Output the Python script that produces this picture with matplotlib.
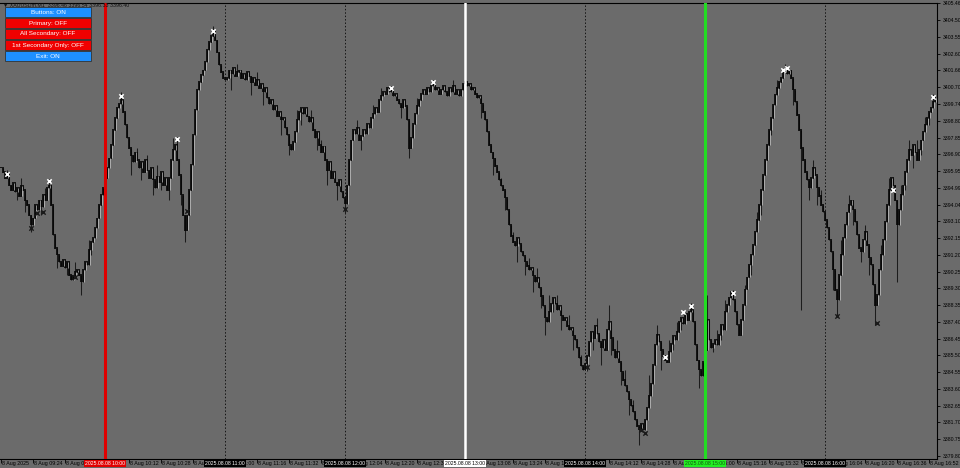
import numpy as np
import matplotlib.pyplot as plt
from matplotlib.patches import Rectangle
from matplotlib.transforms import blended_transform_factory

plt.rcParams['font.family'] = ['Liberation Sans', 'DejaVu Sans']

# XAUUSD M1, closes from 08 Aug 2025 09:08 (one value per minute)
close = [
    3396.13, 3395.90, 3395.56, 3395.79, 3395.16, 3394.88, 3395.28, 3394.77, 3395.00, 3394.54,
    3395.11, 3394.88, 3394.31, 3394.03, 3393.46, 3392.90, 3393.29, 3394.03, 3393.75, 3394.31,
    3393.92, 3394.60, 3394.31, 3395.00, 3395.16, 3394.03, 3392.33, 3391.59, 3391.20, 3390.80,
    3390.57, 3390.91, 3390.46, 3390.80, 3390.06, 3389.78, 3390.01, 3390.23, 3390.35, 3390.06,
    3389.67, 3390.35, 3390.80, 3390.63, 3391.48, 3391.93, 3392.16, 3392.73, 3393.29, 3394.03,
    3394.60, 3395.00, 3395.56,
    3396.13, 3396.69, 3397.43, 3398.28, 3398.96, 3399.53, 3399.76, 3399.98, 3399.30, 3398.57,
    3397.83, 3397.26, 3396.86, 3396.47, 3397.03, 3396.58, 3396.13, 3396.47, 3395.90, 3396.58,
    3396.01, 3395.56, 3396.13, 3395.45, 3395.00, 3395.67, 3395.33, 3395.90, 3395.16, 3395.56,
    3394.88, 3395.56, 3396.58, 3397.15, 3397.43, 3396.58, 3395.73, 3394.60, 3393.46, 3392.61,
    3393.46, 3394.88, 3396.30, 3398.00, 3399.42, 3400.55, 3401.00, 3401.40, 3401.68, 3402.14,
    3402.82, 3403.27, 3403.61, 3403.84, 3403.38, 3402.70, 3401.97, 3401.57, 3401.23, 3401.12,
    3401.23, 3401.68, 3401.46, 3401.80, 3401.34, 3401.57, 3401.68, 3401.23, 3401.46, 3401.12,
    3401.57, 3401.34, 3401.00, 3401.23, 3400.83, 3401.12, 3400.66, 3400.89, 3400.44, 3400.66,
    3400.10, 3399.76, 3399.98, 3399.42, 3399.64, 3399.07, 3399.30, 3398.85, 3398.96, 3398.40,
    3398.00, 3397.43, 3397.15, 3397.60, 3398.17, 3398.85, 3399.30, 3399.53, 3399.19, 3399.53,
    3399.07, 3398.74, 3398.96, 3398.28, 3397.83, 3398.17, 3397.43, 3397.03, 3397.37, 3396.58,
    3396.01, 3396.47, 3395.56, 3395.90, 3395.33, 3395.11, 3395.45, 3394.77, 3394.43, 3394.09,
    3395.16, 3396.58, 3397.71, 3398.28, 3398.06, 3398.40, 3397.71, 3397.94, 3398.28, 3398.06,
    3398.62, 3398.40, 3398.96, 3399.19, 3399.53, 3399.30, 3399.98, 3400.21, 3400.44, 3400.32,
    3400.66, 3400.44, 3400.55, 3400.21, 3400.32, 3399.98, 3399.76, 3399.53, 3399.98, 3399.64,
    3398.85, 3397.26, 3397.83, 3398.62, 3399.19, 3399.64, 3399.98, 3400.32, 3400.55, 3400.32,
    3400.66, 3400.44, 3400.78, 3400.89, 3400.55, 3400.66, 3400.32, 3400.55, 3400.78, 3400.44,
    3400.21, 3400.66, 3400.44, 3400.78, 3400.32, 3400.55, 3400.21, 3400.55, 3400.89, 3401.00,
    3400.78, 3400.89, 3400.55, 3400.66, 3400.32, 3400.10, 3400.21, 3399.76, 3399.30, 3398.85,
    3398.17, 3397.43, 3397.03, 3396.69, 3396.24, 3395.90, 3395.45, 3395.11, 3394.88, 3394.43,
    3393.75, 3392.90, 3392.27, 3391.93, 3391.71, 3392.16, 3391.82, 3391.37, 3391.14, 3390.80,
    3390.57, 3390.35, 3390.46, 3390.01, 3389.67, 3389.89, 3389.33, 3388.87, 3388.31, 3387.63,
    3387.40, 3387.97, 3388.42, 3388.76, 3388.42, 3388.08, 3388.31, 3387.74, 3387.51, 3387.63,
    3387.17, 3386.95, 3387.06, 3386.61, 3386.38, 3385.93, 3385.36, 3384.91, 3384.68, 3385.02,
    3385.47, 3386.27, 3386.83, 3386.49, 3387.17, 3386.72, 3386.27, 3385.93, 3386.38, 3385.81,
    3386.95, 3387.40, 3386.49, 3385.81, 3385.36, 3385.70, 3385.13, 3384.57, 3384.11, 3383.77,
    3383.43, 3382.98, 3382.64, 3382.30, 3381.85, 3381.50, 3381.28, 3381.62, 3381.28, 3381.85,
    3382.53, 3383.21, 3383.89, 3384.96, 3386.10, 3386.66, 3386.27, 3385.81, 3385.47, 3385.24,
    3385.13, 3385.70, 3386.15, 3386.61, 3386.38, 3386.83, 3387.40, 3387.63, 3387.29, 3387.85,
    3387.51, 3387.97, 3388.08, 3387.40, 3386.10, 3385.24, 3384.68, 3384.34, 3385.13, 3385.81,
    3387.51, 3386.38, 3385.93, 3386.15, 3386.38, 3386.10, 3386.66, 3387.23, 3386.95, 3387.97,
    3388.36, 3388.76, 3389.10, 3388.65, 3387.97, 3387.23, 3386.66, 3387.51, 3388.36, 3389.24,
    3389.92, 3390.63, 3391.20, 3391.76, 3392.50, 3393.18, 3394.03, 3394.88, 3395.73, 3396.58,
    3397.43, 3398.28, 3398.96, 3399.70, 3400.27, 3400.66, 3401.00, 3401.23, 3401.57, 3401.68,
    3401.46, 3401.68, 3401.23, 3400.55, 3399.87, 3399.13, 3398.28, 3397.26, 3396.58, 3395.90,
    3395.45, 3395.00, 3395.56, 3396.13, 3395.73, 3395.00, 3394.54, 3394.03, 3393.64, 3393.18,
    3392.73, 3392.05, 3391.37, 3390.35, 3389.21, 3388.65, 3390.06, 3391.20, 3392.16, 3392.90,
    3393.63, 3394.03, 3394.31, 3393.75, 3393.07, 3392.33, 3391.59, 3391.37, 3392.05, 3392.50,
    3391.76, 3391.03, 3390.63, 3389.50, 3388.36, 3388.93, 3390.35, 3391.20, 3392.05, 3393.07,
    3394.03, 3394.88, 3395.56, 3395.16, 3394.31, 3392.90, 3393.75, 3394.60, 3395.16, 3395.90,
    3396.58, 3397.15, 3396.86, 3397.43, 3397.03, 3396.58, 3397.15, 3397.71, 3398.17, 3398.57,
    3398.96, 3399.30, 3399.53, 3399.87, 3400.10,
]

# shadows that stick out of the bodies (bar index -> price)
wick_low = {
    8: 3394.31, 12: 3393.63, 15: 3392.50, 20: 3393.46, 28: 3390.46, 33: 3390.06, 40: 3388.93,
    45: 3391.20, 65: 3395.73, 70: 3395.45, 76: 3394.60, 80: 3394.88, 84: 3394.31, 90: 3394.03,
    92: 3391.93, 115: 3400.55, 125: 3400.27, 131: 3399.70, 140: 3398.00, 144: 3396.86,
    150: 3398.57, 158: 3397.15, 163: 3395.16, 168: 3394.31, 172: 3393.60, 180: 3397.15,
    200: 3398.96, 204: 3396.69, 240: 3398.96, 246: 3395.73, 252: 3393.75, 258: 3390.80,
    262: 3390.06, 266: 3389.10, 270: 3388.19, 272: 3386.66, 276: 3387.97, 280: 3386.95,
    286: 3385.81, 293: 3384.60, 296: 3385.81, 300: 3384.96, 305: 3385.53, 310: 3383.83,
    314: 3382.13, 319: 3380.43, 326: 3384.40, 330: 3384.68, 336: 3385.81, 340: 3386.95,
    349: 3383.63, 356: 3385.70, 360: 3386.38, 370: 3386.66, 375: 3390.06, 380: 3393.46,
    385: 3398.00, 396: 3399.70, 400: 3388.08, 404: 3394.31, 408: 3394.03, 416: 3389.21,
    418: 3387.74, 426: 3392.90, 430: 3390.80, 434: 3390.06, 437: 3387.23, 442: 3392.33,
    448: 3389.67, 452: 3394.88, 456: 3396.13, 460: 3396.86, 464: 3398.57,
}
wick_high = {
    3: 3396.00, 10: 3395.56, 22: 3395.00, 24: 3395.50, 37: 3390.80, 44: 3392.05, 60: 3400.44,
    68: 3397.26, 73: 3396.86, 78: 3396.30, 86: 3397.83, 88: 3397.90, 106: 3404.18,
    118: 3402.02, 128: 3401.57, 136: 3399.98, 148: 3399.42, 155: 3399.42, 160: 3397.71,
    178: 3398.85, 186: 3399.70, 190: 3400.66, 195: 3400.80, 208: 3400.10, 216: 3401.10,
    226: 3401.12, 244: 3397.83, 250: 3395.56, 256: 3392.50, 264: 3391.03, 268: 3390.46,
    274: 3388.93, 278: 3388.93, 284: 3387.80, 290: 3385.53, 298: 3387.63, 304: 3388.36,
    308: 3386.38, 312: 3384.68, 316: 3382.98, 324: 3384.40, 328: 3387.23, 334: 3386.38,
    338: 3387.40, 345: 3388.45, 353: 3388.93, 358: 3386.95, 362: 3388.65, 366: 3389.20,
    372: 3389.50, 378: 3393.63, 388: 3401.12, 392: 3402.02, 398: 3399.53, 402: 3396.58,
    406: 3396.58, 410: 3394.88, 420: 3392.05, 424: 3394.60, 428: 3393.07, 432: 3392.90,
    440: 3391.76, 444: 3395.56, 446: 3395.10, 450: 3395.16, 454: 3397.71, 458: 3397.71,
    462: 3399.02, 466: 3400.32,
}

# fractal marks
up_mark_bar = [3, 24, 60, 88, 106, 195, 216, 332, 341, 345, 366, 391, 393, 446, 466]
up_mark_price = [3395.79, 3395.38, 3400.21, 3397.77, 3403.89, 3400.66, 3401.00, 3385.41,
                 3387.97, 3388.31, 3389.04, 3401.68, 3401.80, 3394.88, 3400.15]
dn_mark_bar = [15, 18, 21, 37, 93, 172, 293, 320, 322, 418, 438]
dn_mark_price = [3392.73, 3393.58, 3393.63, 3389.95, 3393.69, 3393.80, 3384.85, 3381.28,
                 3381.11, 3387.74, 3387.34]

price_ticks = [3405.46, 3404.50, 3403.55, 3402.60, 3401.66, 3400.70, 3399.74, 3398.80,
               3397.85, 3396.90, 3395.95, 3394.99, 3394.04, 3393.10, 3392.15, 3391.20,
               3390.25, 3389.30, 3388.35, 3387.40, 3386.45, 3385.50, 3384.55, 3383.60,
               3382.65, 3381.70, 3380.75, 3379.80]

time_tick_bars = list(range(0, 466, 16))
time_tick_labels = ['8 Aug 2025', '8 Aug 09:24', '8 Aug 09:40', '8 Aug 09:56', '8 Aug 10:12',
                    '8 Aug 10:28', '8 Aug 10:44', '8 Aug 11:00', '8 Aug 11:16', '8 Aug 11:32',
                    '8 Aug 11:48', '8 Aug 12:04', '8 Aug 12:20', '8 Aug 12:36', '8 Aug 12:52',
                    '8 Aug 13:08', '8 Aug 13:24', '8 Aug 13:40', '8 Aug 13:56', '8 Aug 14:12',
                    '8 Aug 14:28', '8 Aug 14:44', '8 Aug 15:00', '8 Aug 15:16', '8 Aug 15:32',
                    '8 Aug 15:48', '8 Aug 16:04', '8 Aug 16:20', '8 Aug 16:36', '8 Aug 16:52']

hour_bars = [52, 112, 172, 232, 292, 352, 412]
hour_labels = ['2025.08.08 10:00', '2025.08.08 11:00', '2025.08.08 12:00', '2025.08.08 13:00',
               '2025.08.08 14:00', '2025.08.08 15:00', '2025.08.08 16:00']
hour_kind = ['red', 'dot', 'dot', 'white', 'dot', 'green', 'dot']

buttons = ['Buttons: ON', 'Primary: OFF', 'All Secondary: OFF', '1st Secondary Only: OFF', 'Exit: ON']
button_on = [True, False, False, False, True]

W, H = 960, 468
bg = '#6b6b6b'
fig = plt.figure(figsize=(W / 100, H / 100), dpi=100, facecolor=bg)
ax = fig.add_axes([0, 1 - 459 / H, 937 / W, 456 / H])
ax.set_facecolor(bg)

c = np.array(close)
o = np.r_[c[0], c[:-1]]
x = np.arange(len(c))
hi = np.maximum(o, c)
lo = np.minimum(o, c)
for b, v in wick_high.items():
    hi[b] = max(hi[b], v)
for b, v in wick_low.items():
    lo[b] = min(lo[b], v)

# shadows, bodies, light fill for rising bars
ax.vlines(x, lo, hi, color='#1c1c1c', lw=0.75, zorder=3)
ax.vlines(x, np.minimum(o, c) - 0.03, np.maximum(o, c) + 0.03, color='#050505', lw=1.2, zorder=3)
up = c > o
ax.vlines(x[up] + 0.3, o[up], c[up], color='#d4d4d4', lw=0.45, zorder=4)

ax.scatter(up_mark_bar, up_mark_price, marker='x', s=10, color='white', linewidths=1.1, zorder=6)
ax.scatter(dn_mark_bar, dn_mark_price, marker='x', s=10, color='#1a1a1a', linewidths=1.0, zorder=6)

line_style = {'red': dict(color='#e00000', lw=2.2, ls='-'),
              'white': dict(color='white', lw=1.8, ls='-'),
              'green': dict(color='#22dd22', lw=2.2, ls='-'),
              'dot': dict(color='#151515', lw=0.7, ls=(0, (1.5, 2)))}
box_style = {'red': ('#e00000', 'white'), 'white': ('white', 'black'),
             'green': ('#22ee22', '#115511'), 'dot': ('black', 'white')}

ax.set_xlim(-0.5, 468)
ax.set_ylim(3379.63, 3405.48)

ax.spines['left'].set_visible(False)
for s in ['top', 'right', 'bottom']:
    ax.spines[s].set_color('black')
    ax.spines[s].set_linewidth(0.8)

ax.yaxis.tick_right()
ax.set_yticks(price_ticks)
ax.set_yticklabels(['%.2f' % p for p in price_ticks])
ax.tick_params(axis='y', length=2.5, width=0.6, pad=1.5, labelsize=3.7, colors='black')
ax.set_xticks(time_tick_bars)
ax.set_xticklabels([])
ax.tick_params(axis='x', length=3, width=0.6, colors='black')

tr = blended_transform_factory(ax.transData, fig.transFigure)
ty = 1 - 463.5 / H
for b, lab in zip(time_tick_bars, time_tick_labels):
    if any(hb - 8 < b < hb for hb in hour_bars):
        continue  # fully hidden under the time box of the vertical line
    ax.text(b + 0.6, ty, lab, transform=tr, ha='left', va='center', fontsize=3.8,
            color='black', clip_on=False)

for b, lab, k in zip(hour_bars, hour_labels, hour_kind):
    ax.axvline(b, zorder=2 if k == 'dot' else 5, **line_style[k])
    fc, tc = box_style[k]
    ax.text(b, ty, lab, transform=tr, ha='center', va='center', fontsize=3.7, color=tc,
            clip_on=False, zorder=10,
            bbox=dict(boxstyle='square,pad=0.25', fc=fc, ec='none'))

fig.text(3 / W, 1 - 5 / H, '\u25bc XAUUSDm,M1  3396.46 3396.54 3396.33 3396.40',
         fontsize=3.8, color='#111111', va='center', zorder=1)

for i, (lab, on) in enumerate(zip(buttons, button_on)):
    top = 7 + 11 * i
    fig.patches.append(Rectangle((5 / W, 1 - (top + 10) / H), 86 / W, 10 / H,
                                 transform=fig.transFigure, fc='#1e90ff' if on else '#f00000',
                                 ec='#333333', lw=0.6, zorder=20))
    fig.text(48 / W, 1 - (top + 5) / H, lab, ha='center', va='center', fontsize=4.6,
             color='white', zorder=21)

fig.savefig('out.png', dpi=100, facecolor=bg)
